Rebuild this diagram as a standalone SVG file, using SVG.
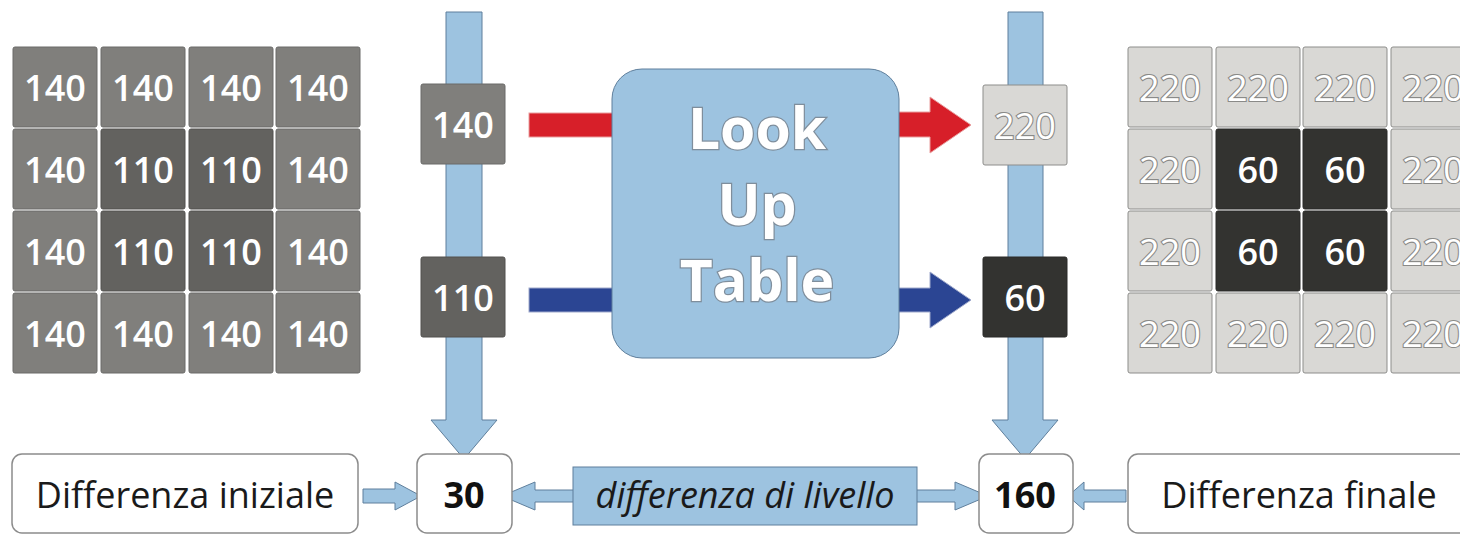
<svg xmlns="http://www.w3.org/2000/svg" width="1460" height="535" viewBox="0 0 1460 535">
<style>
  text { font-family: "Open Sans", "Noto Sans", sans-serif; text-anchor: middle; }
  .c140 { fill: #807f7c; stroke: #6a6a68; stroke-width: 1; }
  .c110 { fill: #63625f; stroke: #52514f; stroke-width: 1; }
  .c220 { fill: #d9d8d5; stroke: #8d8d8b; stroke-width: 1; }
  .c60 { fill: #333330; stroke: #2a2a28; stroke-width: 1; }
  .tw { fill: #ffffff; font-size: 36px; font-weight: 600; }
  .to { fill: #ffffff; stroke: #8a8a88; stroke-width: 2.2; paint-order: stroke; font-size: 36px; font-weight: 500; }
  .bar { fill: #9dc3e0; stroke: #5f7f9c; stroke-width: 1; }
  .red { fill: #d71f29; stroke: #e9a0a0; stroke-width: 1; }
  .blu { fill: #2b4593; stroke: #a0aacc; stroke-width: 1; }
  .box { fill: #ffffff; stroke: #8c8c8c; stroke-width: 1.5; }
  .lbl { fill: #1a1a1a; font-size: 36px; }
  .num { fill: #111111; font-size: 36px; font-weight: 700; }
  .lut { fill: #ffffff; stroke: #7f8e9c; stroke-width: 2.5; paint-order: stroke; font-size: 57px; font-weight: 700; }
</style>

<g id="connectors">
  <path class="bar" d="M446,12 H482 V420 H497 L464,459 L431,420 H446 Z"/>
  <path class="bar" d="M1008,12 H1043 V420 H1058 L1025,459 L992,420 H1008 Z"/>
  <rect class="red" x="529" y="113" width="84" height="24"/>
  <path class="red" d="M897,112 H930 V97 L971,125 L930,153 V137 H897 Z"/>
  <rect class="blu" x="529" y="288" width="84" height="24"/>
  <path class="blu" d="M897,288 H930 V272 L971,300 L930,328 V312 H897 Z"/>
  <path class="bar" d="M363,489 H395 V482 L421,496 L395,510 V503 H363 Z"/>
  <path class="bar" d="M574,490 H535 V482 L502,496 L535,510 V502 H574 Z"/>
  <path class="bar" d="M916,490 H955 V482 L988,496 L955,510 V502 H916 Z"/>
  <path class="bar" d="M1126,490 H1084 V482 L1068,496 L1084,510 V502 H1126 Z"/>
</g>

<g id="grid-left">
  <rect class="c140" x="13" y="47" width="84" height="80" rx="2"/>
  <rect class="c140" x="101" y="47" width="84" height="80" rx="2"/>
  <rect class="c140" x="189" y="47" width="84" height="80" rx="2"/>
  <rect class="c140" x="276" y="47" width="84" height="80" rx="2"/>
  <rect class="c140" x="13" y="129" width="84" height="80" rx="2"/>
  <rect class="c110" x="101" y="129" width="84" height="80" rx="2"/>
  <rect class="c110" x="189" y="129" width="84" height="80" rx="2"/>
  <rect class="c140" x="276" y="129" width="84" height="80" rx="2"/>
  <rect class="c140" x="13" y="211" width="84" height="80" rx="2"/>
  <rect class="c110" x="101" y="211" width="84" height="80" rx="2"/>
  <rect class="c110" x="189" y="211" width="84" height="80" rx="2"/>
  <rect class="c140" x="276" y="211" width="84" height="80" rx="2"/>
  <rect class="c140" x="13" y="293" width="84" height="80" rx="2"/>
  <rect class="c140" x="101" y="293" width="84" height="80" rx="2"/>
  <rect class="c140" x="189" y="293" width="84" height="80" rx="2"/>
  <rect class="c140" x="276" y="293" width="84" height="80" rx="2"/>
  <text class="tw" x="55" y="101">140</text>
  <text class="tw" x="143" y="101">140</text>
  <text class="tw" x="231" y="101">140</text>
  <text class="tw" x="318" y="101">140</text>
  <text class="tw" x="55" y="183">140</text>
  <text class="tw" x="143" y="183">110</text>
  <text class="tw" x="231" y="183">110</text>
  <text class="tw" x="318" y="183">140</text>
  <text class="tw" x="55" y="265">140</text>
  <text class="tw" x="143" y="265">110</text>
  <text class="tw" x="231" y="265">110</text>
  <text class="tw" x="318" y="265">140</text>
  <text class="tw" x="55" y="347">140</text>
  <text class="tw" x="143" y="347">140</text>
  <text class="tw" x="231" y="347">140</text>
  <text class="tw" x="318" y="347">140</text>
</g>

<g id="grid-right">
  <rect class="c220" x="1128" y="47" width="84" height="80" rx="2"/>
  <rect class="c220" x="1216" y="47" width="84" height="80" rx="2"/>
  <rect class="c220" x="1303" y="47" width="84" height="80" rx="2"/>
  <rect class="c220" x="1391" y="47" width="84" height="80" rx="2"/>
  <rect class="c220" x="1128" y="129" width="84" height="80" rx="2"/>
  <rect class="c60" x="1216" y="129" width="84" height="80" rx="2"/>
  <rect class="c60" x="1303" y="129" width="84" height="80" rx="2"/>
  <rect class="c220" x="1391" y="129" width="84" height="80" rx="2"/>
  <rect class="c220" x="1128" y="211" width="84" height="80" rx="2"/>
  <rect class="c60" x="1216" y="211" width="84" height="80" rx="2"/>
  <rect class="c60" x="1303" y="211" width="84" height="80" rx="2"/>
  <rect class="c220" x="1391" y="211" width="84" height="80" rx="2"/>
  <rect class="c220" x="1128" y="293" width="84" height="80" rx="2"/>
  <rect class="c220" x="1216" y="293" width="84" height="80" rx="2"/>
  <rect class="c220" x="1303" y="293" width="84" height="80" rx="2"/>
  <rect class="c220" x="1391" y="293" width="84" height="80" rx="2"/>
  <text class="to" x="1170" y="101">220</text>
  <text class="to" x="1258" y="101">220</text>
  <text class="to" x="1345" y="101">220</text>
  <text class="to" x="1433" y="101">220</text>
  <text class="to" x="1170" y="183">220</text>
  <text class="tw" x="1258" y="183">60</text>
  <text class="tw" x="1345" y="183">60</text>
  <text class="to" x="1433" y="183">220</text>
  <text class="to" x="1170" y="265">220</text>
  <text class="tw" x="1258" y="265">60</text>
  <text class="tw" x="1345" y="265">60</text>
  <text class="to" x="1433" y="265">220</text>
  <text class="to" x="1170" y="347">220</text>
  <text class="to" x="1258" y="347">220</text>
  <text class="to" x="1345" y="347">220</text>
  <text class="to" x="1433" y="347">220</text>
</g>

<g id="in-140">
  <rect class="c140" x="421" y="84" width="84" height="80" rx="2"/>
  <text class="tw" x="463" y="138">140</text>
</g>
<g id="in-110">
  <rect class="c110" x="421" y="257" width="84" height="80" rx="2"/>
  <text class="tw" x="463" y="311">110</text>
</g>
<g id="out-220">
  <rect class="c220" x="983" y="85" width="84" height="80" rx="2"/>
  <text class="to" x="1025" y="139">220</text>
</g>
<g id="out-60">
  <rect class="c60" x="983" y="257" width="84" height="80" rx="2"/>
  <text class="tw" x="1025" y="311">60</text>
</g>

<g id="lut">
  <rect class="bar" x="612" y="69" width="287" height="289" rx="30" stroke="#6d8aa3"/>
  <text class="lut" x="757" y="149">Look</text>
  <text class="lut" x="757" y="225">Up</text>
  <text class="lut" x="757" y="301">Table</text>
</g>

<g id="diff-iniziale">
  <rect class="box" x="12" y="454" width="346" height="79" rx="10"/>
  <text class="lbl" x="185" y="508">Differenza iniziale</text>
</g>
<g id="val-30">
  <rect class="box" x="417" y="454" width="95" height="79" rx="10"/>
  <text class="num" x="464" y="508">30</text>
</g>
<g id="diff-livello">
  <rect class="bar" x="573" y="467" width="344" height="58" stroke="#6c7f90"/>
  <text class="lbl" x="745" y="508" font-style="italic">differenza di livello</text>
</g>
<g id="val-160">
  <rect class="box" x="979" y="454" width="94" height="79" rx="10"/>
  <text class="num" x="1025" y="508">160</text>
</g>
<g id="diff-finale">
  <rect class="box" x="1128" y="454" width="345" height="79" rx="10"/>
  <text class="lbl" x="1299" y="508">Differenza finale</text>
</g>
</svg>
